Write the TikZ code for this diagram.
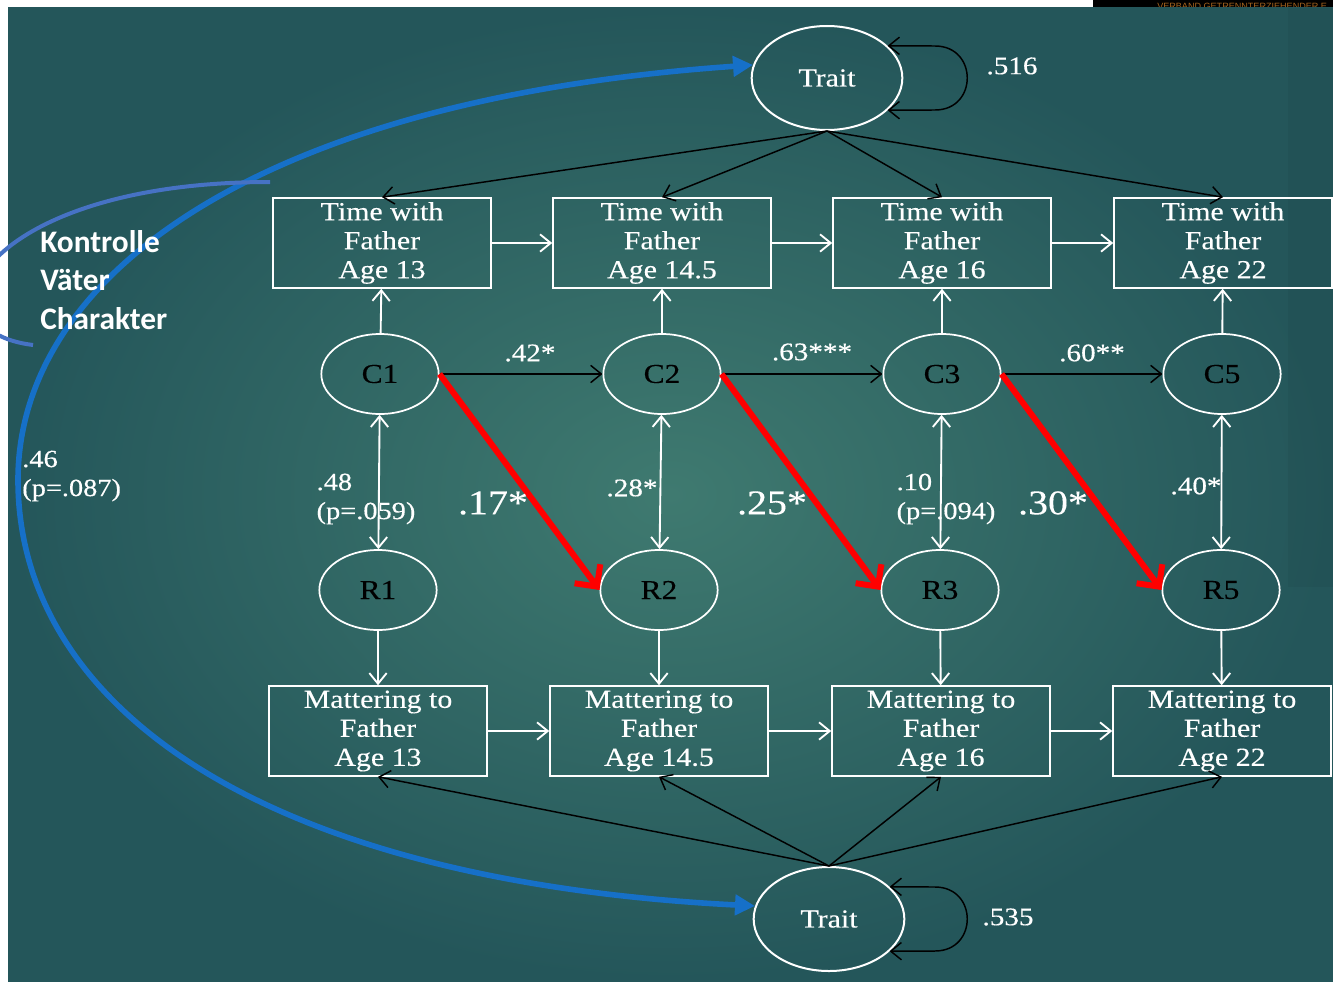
\documentclass[tikz,border=0pt]{standalone}
\usepackage{fontspec}
\setmainfont[FakeStretch=1.15,FakeBold=0.3]{Liberation Serif}
\newfontfamily\notefont{Carlito}
\newfontfamily\bannerfont{Liberation Sans}
\usetikzlibrary{arrows.meta,shapes.geometric}
\definecolor{bgin}{RGB}{63,122,112}
\definecolor{bgout}{RGB}{36,86,90}
\definecolor{arcblue}{RGB}{22,112,200}
\definecolor{noteblue}{RGB}{70,114,196}
\definecolor{banner}{RGB}{165,100,30}
\tikzset {
	trait/.style={ellipse, draw=white, line width=1.5pt, minimum width=113pt, minimum height=78pt, inner sep=0pt, text=white, font=\fontsize{19.5}{22}\selectfont},
	latent/.style={ellipse, draw=white, line width=1.3pt, minimum width=88pt, minimum height=60pt, inner sep=0pt, font=\fontsize{20.5}{22}\selectfont},
	measure/.style={rectangle, draw=white, line width=1.2pt, minimum width=163.5pt, minimum height=67.5pt, inner sep=1pt, align=center, text=white, font=\fontsize{19.5}{21.75}\selectfont},
	coef/.style={text=white, inner sep=0pt, font=\fontsize{19}{20}\selectfont},
	pcoef/.style={text=white, inner sep=0pt, align=left, font=\fontsize{18.5}{21.75}\selectfont},
	bigcoef/.style={text=white, inner sep=0pt, font=\fontsize{26}{28}\selectfont},
	note/.style={text=white, inner sep=0pt, align=left, font=\notefont\bfseries\fontsize{23.5}{29}\selectfont},
	wpath/.style={draw=white, line width=1.4pt, -{Straight Barb[length=8pt,width=13pt]}},
	bpath/.style={draw=black, line width=1.1pt, -{Straight Barb[length=8pt,width=13pt]}},
	wcov/.style={draw=white, line width=1.4pt, {Straight Barb[length=8pt,width=13pt]}-{Straight Barb[length=8pt,width=13pt]}},
	bloop/.style={draw=black, line width=1.1pt, {Straight Barb[length=8pt,width=13pt]}-{Straight Barb[length=8pt,width=13pt]}},
	redpath/.style={draw=red, line width=4.5pt, -{Straight Barb[length=12pt,width=24pt]}},
	bluepath/.style={draw=arcblue, line width=4.2pt, {Triangle[length=15pt,width=15pt]}-{Triangle[length=15pt,width=15pt]}},
	bracket/.style={draw=noteblue, line width=3pt}
}
\begin{document}
\begin{tikzpicture}[x=0.75pt,y=-0.75pt]
	\useasboundingbox (0,0) rectangle (1333,981);
	\clip (0,0) rectangle (1333,981);
	\fill[white] (0,0) rectangle (1333,981);
	\fill[black] (1093,0) rectangle (1333,8);
	\node[anchor=base west, inner sep=0pt, text=banner, font=\bannerfont\fontsize{6.8}{8}\selectfont] (ban) at (1157,9.5) {VERBAND GETRENNTERZIEHENDER E};
	\shade[inner color=bgin, outer color=bgout] (8,8) rectangle (1333,981);
	\fill[black, opacity=.04] (1288,8) rectangle (1333,587);

	\node[trait] (T1) at (827,78) {Trait};
	\node[trait] (T2) at (829,919) {Trait};
	\node[measure] (B1) at (382,243) {Time with\\Father\\Age 13};
	\node[measure] (B2) at (662,243) {Time with\\Father\\Age 14.5};
	\node[measure] (B3) at (942,243) {Time with\\Father\\Age 16};
	\node[measure] (B4) at (1223,243) {Time with\\Father\\Age 22};
	\node[latent] (C1) at (380,374) {C1};
	\node[latent] (C2) at (662,374) {C2};
	\node[latent] (C3) at (942,374) {C3};
	\node[latent] (C5) at (1222,374) {C5};
	\node[latent] (R1) at (378,590) {R1};
	\node[latent] (R2) at (659,590) {R2};
	\node[latent] (R3) at (940,590) {R3};
	\node[latent] (R5) at (1221,590) {R5};
	\node[measure] (M1) at (378,731) {Mattering to\\Father\\Age 13};
	\node[measure] (M2) at (659,731) {Mattering to\\Father\\Age 14.5};
	\node[measure] (M3) at (941,731) {Mattering to\\Father\\Age 16};
	\node[measure] (M4) at (1222,731) {Mattering to\\Father\\Age 22};

	\draw[bpath] (T1.south) -- (B1.north);
	\draw[bpath] (T1.south) -- (B2.north);
	\draw[bpath] (T1.south) -- (B3.north);
	\draw[bpath] (T1.south) -- (B4.north);
	\draw[bpath] (T2.north) -- (M1.south);
	\draw[bpath] (T2.north) -- (M2.south);
	\draw[bpath] (T2.north) -- (M3.south);
	\draw[bpath] (T2.north) -- (M4.south);
	\draw[bloop] (T1.28) -- (935,46) .. controls (978,46) and (978,110) .. (935,110) -- (T1.-28);
	\draw[bloop] (T2.28) -- (935,887) .. controls (978,887) and (978,951) .. (935,951) -- (T2.-28);

	\draw[wpath] (B1) -- (B2);
	\draw[wpath] (B2) -- (B3);
	\draw[wpath] (B3) -- (B4);
	\draw[wpath] (M1) -- (M2);
	\draw[wpath] (M2) -- (M3);
	\draw[wpath] (M3) -- (M4);
	\draw[wpath] (C1) -- (B1);
	\draw[wpath] (C2) -- (B2);
	\draw[wpath] (C3) -- (B3);
	\draw[wpath] (C5) -- (B4);
	\draw[wpath] (R1) -- (M1);
	\draw[wpath] (R2) -- (M2);
	\draw[wpath] (R3) -- (M3);
	\draw[wpath] (R5) -- (M4);
	\draw[bpath] (C1) -- (C2);
	\draw[bpath] (C2) -- (C3);
	\draw[bpath] (C3) -- (C5);
	\draw[wcov] (C1) -- (R1);
	\draw[wcov] (C2) -- (R2);
	\draw[wcov] (C3) -- (R3);
	\draw[wcov] (C5) -- (R5);
	\draw[redpath] (C1.east) -- (R2.west);
	\draw[redpath] (C2.east) -- (R3.west);
	\draw[redpath] (C3.east) -- (R5.west);

	\draw[bluepath] (T1.170) .. controls (250,100) and (18,280) .. (18,480) .. controls (18,700) and (250,880) .. (T2.170);
	\draw[bracket] (270,182) .. controls (-20,182) and (-90,330) .. (33,345);

	\node[coef] (t1var) at (1012,66) {.516};
	\node[coef] (t2var) at (1008,917) {.535};
	\node[coef] (c12) at (530,353) {.42*};
	\node[coef] (c23) at (812,352) {.63***};
	\node[coef] (c35) at (1092,353) {.60**};
	\node[pcoef] (cr1) at (366,499) {.48\\(p=.059)};
	\node[coef] (cr2) at (632,488) {.28*};
	\node[pcoef] (cr3) at (946,499) {.10\\(p=.094)};
	\node[coef] (cr5) at (1196,486) {.40*};
	\node[bigcoef] (x12) at (493,503) {.17*};
	\node[bigcoef] (x23) at (772,503) {.25*};
	\node[bigcoef] (x35) at (1053,503) {.30*};
	\node[pcoef, anchor=west] (tcov) at (22,476) {.46\\(p=.087)};
	\node[note, anchor=west] (ctl) at (40,280) {Kontrolle\\Väter\\Charakter};
\end{tikzpicture}
\end{document}
